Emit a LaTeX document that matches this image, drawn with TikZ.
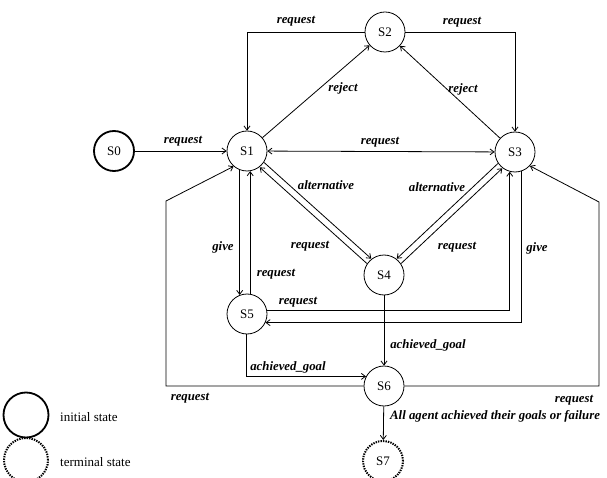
\documentclass[tikz,border=0pt]{standalone}
\usepackage{fontspec}
\setmainfont{Liberation Serif}
\usetikzlibrary{arrows.meta,calc}
\begin{document}
\begin{tikzpicture}[x=1pt,y=-1pt,
  state/.style={circle,draw,line width=0.8pt,minimum size=40pt,inner sep=0pt,font=\fontsize{13}{15}\selectfont},
  initstate/.style={state,line width=1.8pt},
  termstate/.style={state,line width=2pt,dash pattern=on 1.4pt off 1.1pt},
  edge/.style={line width=0.8pt,-{Straight Barb[length=4pt,width=6pt]}},
  biedge/.style={line width=0.8pt,{Straight Barb[length=4pt,width=6pt]}-{Straight Barb[length=4pt,width=6pt]}},
  lbl/.style={font=\fontsize{12.8}{15}\selectfont\bfseries\itshape,inner sep=0pt},
  legtext/.style={font=\fontsize{13}{15}\selectfont,anchor=west,inner sep=0pt}]
\useasboundingbox (0,0) rectangle (607,478);
% states
\node[initstate] (S0) at (114,151) {S0};
\node[state] (S1) at (247,151) {S1};
\node[state] (S2) at (385,32) {S2};
\node[state] (S3) at (515,152) {S3};
\node[state] (S4) at (384,275) {S4};
\node[state] (S5) at (247,314) {S5};
\node[state] (S6) at (384,386) {S6};
\node[termstate] (S7) at (383,461) {S7};
% legend
\node[initstate,minimum size=45pt] (L1) at (26,415) {};
\node[legtext] (L1t) at (60,417) {initial state};
\node[termstate,minimum size=44pt] (L2) at (26,460) {};
\node[legtext] (L2t) at (60,462) {terminal state};
% corner coordinates
\coordinate (a2) at (166,201);
\coordinate (b2) at (599,202);
% edges
\draw[edge] (S0) -- (S1);
\draw[edge] (S2) -| (S1);
\draw[edge] (S2) -| (S3);
\draw[edge] (S1) -- (S2);
\draw[edge] (S3) -- (S2);
\draw[biedge] (S1) -- (S3);
\draw[edge] ([shift={(2.2,-2.4)}]S1.-43) -- ([shift={(2.2,-2.4)}]S4.137);
\draw[edge] ([shift={(-2.2,2.4)}]S4.137) -- ([shift={(-2.2,2.4)}]S1.-43);
\draw[edge] ([shift={(-2.2,-2.4)}]S3.-137) -- ([shift={(-2.2,-2.4)}]S4.43);
\draw[edge] ([shift={(2.2,2.4)}]S4.43) -- ([shift={(2.2,2.4)}]S3.-137);
\draw[edge] (S1.-111) -- (S5.111);
\draw[edge] (S5.81) -- (S1.-81);
\draw[edge] (S5.9) -| (S3.-105);
\draw[edge] (S3.-72) |- (S5.-25);
\draw[edge] (S4) -- (S6);
\draw[edge] (S5.-92) |- (S6.152);
\draw[edge] (S6.west) -| (a2) -- (S1.-131);
\draw[edge] (S6.east) -| (b2) -- (S3.-43);
\draw[edge] (S6) -- (S7);
% labels
\node[lbl] (t1) at (296,21) {request};
\node[lbl] (t2) at (462,22) {request};
\node[lbl] (t3) at (343,88) {reject};
\node[lbl] (t4) at (463,89) {reject};
\node[lbl] (t5) at (183,141) {request};
\node[lbl] (t6) at (380,142) {request};
\node[lbl] (t7) at (326,185) {alternative};
\node[lbl] (t8) at (437,187) {alternative};
\node[lbl] (t9) at (310,246) {request};
\node[lbl] (t10) at (457,247) {request};
\node[lbl] (t11) at (223,247) {give};
\node[lbl] (t12) at (276,274) {request};
\node[lbl] (t13) at (537,248) {give};
\node[lbl] (t14) at (298,302) {request};
\node[lbl] (t15) at (428,345) {achieved\_goal};
\node[lbl] (t16) at (288,367) {achieved\_goal};
\node[lbl] (t17) at (190,398) {request};
\node[lbl] (t18) at (574,400) {request};
\node[lbl,anchor=west] (t19) at (390,416) {All agent achieved their goals or failure};
\end{tikzpicture}
\end{document}
